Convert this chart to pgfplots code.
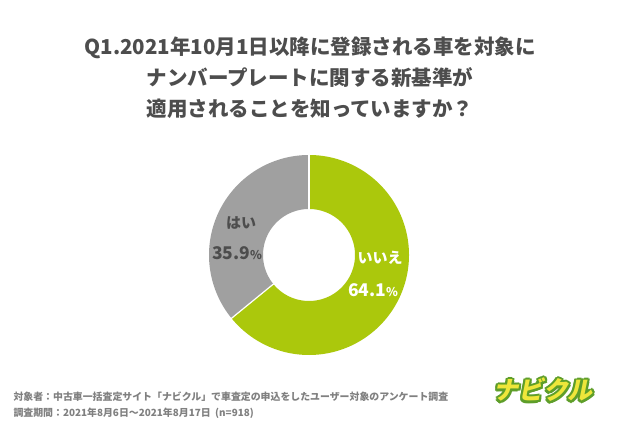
\documentclass[border=0pt]{standalone}
\usepackage{fontspec}
\setmainfont{Noto Sans CJK JP}
\usepackage{pgfplots}
\pgfplotsset{compat=1.18}
\definecolor{grn}{HTML}{ABC80C}
\definecolor{gry}{HTML}{A0A0A0}
\definecolor{txt}{HTML}{4D4D4D}
\definecolor{note}{HTML}{808080}
\definecolor{logoY}{HTML}{EEE63A}
\definecolor{logoG}{HTML}{5E9E2A}
\begin{document}
\begin{tikzpicture}[x=1pt,y=1pt]
\fill[white] (0,0) rectangle (620,433);
\useasboundingbox (0,0) rectangle (620,433);
\node[txt, font=\bfseries\fontsize{20.5}{31}\selectfont, align=center] at (310,355)
 {Q1.2021年10月1日以降に登録される車を対象に\\ナンバープレートに関する新基準が\\適用されることを知っていますか？};
\begin{axis}[at={(309pt,178pt)}, anchor=center, scale only axis, width=200pt, height=200pt,
  xmin=-1, xmax=1, ymin=-1, ymax=1, hide axis, clip=false]
\addplot[grn, line width=54pt, domain=0:64.1*3.6, samples=160, variable=\t] ({0.73*sin(\t)},{0.73*cos(\t)});
\addplot[gry, line width=54pt, domain=64.1*3.6:360, samples=90, variable=\t] ({0.73*sin(\t)},{0.73*cos(\t)});
\addplot[white, line width=1.2pt] coordinates {(0,0.45) (0,1.01)};
\addplot[white, line width=1.2pt] coordinates {(-0.3485,-0.2846) (-0.782,-0.639)};
\end{axis}
\node[white, font=\bfseries\fontsize{15}{15}\selectfont] at (380,175) {いいえ};
\node[white, font=\bfseries] at (373,143) {{\fontsize{17.5}{17}\selectfont 64.1}{\fontsize{12}{12}\selectfont\%}};
\node[txt, font=\bfseries\fontsize{15}{15}\selectfont] at (241,210) {はい};
\node[txt, font=\bfseries] at (237,180) {{\fontsize{17.5}{17}\selectfont 35.9}{\fontsize{12}{12}\selectfont\%}};
\node[note, font=\bfseries\fontsize{9.9}{10}\selectfont, anchor=west] at (10,36) {対象者：中古車一括査定サイト「ナビクル」で車査定の申込をしたユーザー対象のアンケート調査};
\node[note, font=\bfseries\fontsize{9.9}{10}\selectfont, anchor=west] at (10,20) {調査期間：2021年8月6日～2021年8月17日\ \ (n=918)};
\begin{scope}[shift={(545,43)}, xslant=0.2]
\foreach \a in {0,30,...,330} {
  \node[logoG, font=\bfseries\fontsize{25}{25}\selectfont, transform shape] at (\a:2.2) {ナビクル};
}
\node[logoY, font=\bfseries\fontsize{25}{25}\selectfont, transform shape] at (0,0) {ナビクル};
\end{scope}
\end{tikzpicture}
\end{document}
